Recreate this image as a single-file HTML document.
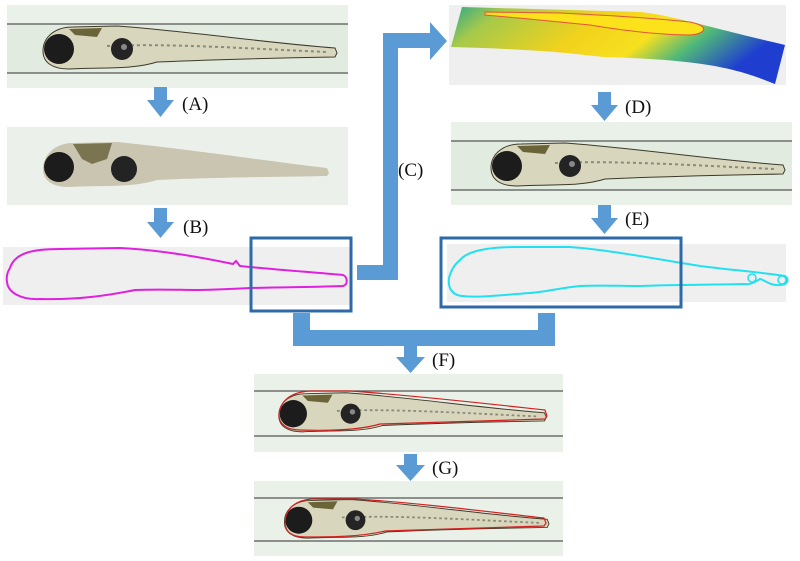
<!DOCTYPE html>
<html><head><meta charset="utf-8"><style>
html,body{margin:0;padding:0;background:#fff;width:800px;height:561px;overflow:hidden}
svg{display:block}
text{font-family:"Liberation Serif",serif;font-size:19px;fill:#111}
</style></head><body>
<svg width="800" height="561" viewBox="0 0 800 561" xmlns="http://www.w3.org/2000/svg">
<defs>
<linearGradient id="hm" x1="0" y1="0" x2="1" y2="0.3">
<stop offset="0" stop-color="#2ba88c"/>
<stop offset="0.15" stop-color="#a6c94a"/>
<stop offset="0.45" stop-color="#f2d21c"/>
<stop offset="0.65" stop-color="#f7e020"/>
<stop offset="0.8" stop-color="#4fb87a"/>
<stop offset="1" stop-color="#1f3ed0"/>
</linearGradient>
<clipPath id="pc"><rect x="0" y="0" width="341" height="83"/></clipPath>
<g id="fish">
<path d="M36,50 C36,36 48,26 66,26 L110,25 C180,30 260,42 328,47 L330,52 L328,56 C270,57 220,58 150,61 C125,69 95,66 62,68 C46,68 36,62 36,50 Z" fill="#d8d6bd" stroke="#3d3a2a" stroke-width="1"/>
<path d="M100,45 C160,42 250,48 320,51" stroke="#8a8a78" stroke-width="2" fill="none" stroke-dasharray="3 3"/>
<path d="M62,28 L95,27 L90,36 L68,34 Z" fill="#6a6438"/>
<circle cx="52" cy="48" r="15" fill="#1c1c1c"/>
<circle cx="115" cy="48" r="11" fill="#242424"/>
<circle cx="117" cy="46" r="3" fill="#888"/>
</g>
<g id="panel">
<rect x="0" y="0" width="341" height="83" fill="#eaf1e8"/>
<rect x="0" y="19" width="341" height="49" fill="#e2ebe0"/>
<line x1="0" y1="19" x2="341" y2="19" stroke="#555" stroke-width="1.3"/>
<line x1="0" y1="68" x2="341" y2="68" stroke="#555" stroke-width="1.3"/>
</g>
</defs>

<!-- Panel 1 -->
<g transform="translate(7,5)"><use href="#panel"/><use href="#fish" x="0" y="-4"/></g>
<path d="M154,87 H167 V100 H174 L160.5,117 L147,100 H154 Z" fill="#5b9bd5"/>
<text x="182" y="110">(A)</text>

<!-- Panel 2 -->
<rect x="7" y="127" width="341" height="78" fill="#ebf1ea"/>
<g transform="translate(7,119)">
<path d="M36,50 C36,36 48,24 66,24 L110,23 C180,30 260,42 320,49 L322,54 L320,57 C270,58 220,58 150,61 C125,69 95,66 62,68 C46,68 36,62 36,50 Z" fill="#c9c5b0"/>
<path d="M66,25 L105,24 L100,40 L85,45 L75,40 Z" fill="#7a7550"/>
<circle cx="52" cy="48" r="15" fill="#1c1c1c"/>
<circle cx="117" cy="50" r="13" fill="#232323"/>
</g>
<path d="M154,208 H167 V222 H174 L160.5,238 L147,222 H154 Z" fill="#5b9bd5"/>
<text x="183" y="233">(B)</text>

<!-- Panel 3 magenta -->
<rect x="3" y="247" width="348" height="58" fill="#efefef"/>
<path d="M10,268 C15,252 35,249 60,249 L120,248 C160,250 200,257 233,264 L236,261 L240,266 C280,270 310,272 343,275 C348,277 348,285 343,286 C320,287 290,287 250,288 C230,289 210,290 195,290 C180,290 160,289 135,290 C110,295 80,300 40,299 C20,300 8,292 7,282 C6,276 8,271 10,268 Z" fill="none" stroke="#e020e0" stroke-width="2"/>
<rect x="251" y="238" width="100" height="73" fill="none" stroke="#2e69a8" stroke-width="3"/>

<!-- Arrow C -->
<path d="M357,265 H383 V33 H430 V22 L447,41 L430,60 V48 H398 V280 H357 Z" fill="#5b9bd5"/>
<text x="398" y="176">(C)</text>

<!-- Heatmap panel -->
<rect x="449" y="5" width="337" height="80" fill="#efefef"/>
<path d="M462,7 L640,12 C670,15 700,25 785,45 L775,84 C740,70 710,60 605,57 C580,55 560,50 451,47 Z" fill="url(#hm)"/>
<path d="M485,12 L560,13 C600,15 640,17 690,22 C710,26 706,34 690,35 C660,35 620,30 590,25 C560,22 520,18 485,15 Z" fill="#fbe21a" stroke="#e0553a" stroke-width="1"/>

<path d="M598,92 H611 V105 H618 L604.5,121 L591,105 H598 Z" fill="#5b9bd5"/>
<text x="625" y="113">(D)</text>

<!-- Panel D -->
<g transform="translate(451,122)" clip-path="url(#pc)"><use href="#panel"/><use href="#fish" x="4" y="-4"/></g>

<path d="M598,205 H611 V218 H618 L604.5,234 L591,218 H598 Z" fill="#5b9bd5"/>
<text x="625" y="225">(E)</text>

<!-- Panel cyan -->
<rect x="447" y="244" width="339" height="58" fill="#efefef"/>
<path d="M460,260 C470,248 500,247 520,247 L570,247 C610,250 650,258 700,266 C730,270 750,271 785,276 C790,280 787,285 780,285 C770,286 765,280 760,279 C755,282 750,285 745,284 C700,285 660,285 640,286 C620,286 600,285 580,286 C560,288 545,292 530,293 C500,295 480,298 462,296 C450,295 448,285 449,278 C451,270 455,264 460,260 Z" fill="none" stroke="#22e0f0" stroke-width="2"/>
<circle cx="752" cy="278" r="4" fill="none" stroke="#22e0f0" stroke-width="1.5"/>
<circle cx="782" cy="280" r="4" fill="none" stroke="#22e0f0" stroke-width="1.5"/>
<rect x="441" y="238" width="240" height="69" fill="none" stroke="#2e69a8" stroke-width="3"/>

<!-- merge connector -->
<path d="M293,313 H310 V330 H538 V313 H555 V346 H293 Z" fill="#5b9bd5"/>
<path d="M404,346 H417 V357 H425 L410.5,373 L396,357 H404 Z" fill="#5b9bd5"/>
<text x="432" y="366">(F)</text>

<!-- Panel F -->
<rect x="254" y="374" width="309" height="78" fill="#eaf1e8"/>
<line x1="254" y1="391" x2="563" y2="391" stroke="#555" stroke-width="1.3"/>
<line x1="254" y1="436" x2="563" y2="436" stroke="#555" stroke-width="1.3"/>
<g transform="translate(246,370) scale(0.91)"><use href="#fish"/></g>
<path d="M279,415 C280,400 292,392 310,391 L350,391 C420,396 490,404 545,410 L547,416 L545,419 C500,420 450,422 380,424 C360,430 330,431 300,430 C288,430 279,425 279,415 Z" fill="none" stroke="#d42020" stroke-width="1.2"/>

<path d="M404,454 H417 V465 H425 L410.5,481 L396,465 H404 Z" fill="#5b9bd5"/>
<text x="432" y="474">(G)</text>

<!-- Panel G -->
<rect x="254" y="481" width="309" height="75" fill="#eaf1e8"/>
<line x1="254" y1="498" x2="563" y2="498" stroke="#555" stroke-width="1.3"/>
<line x1="254" y1="541" x2="563" y2="541" stroke="#555" stroke-width="1.3"/>
<g transform="translate(252,477) scale(0.9)"><use href="#fish"/></g>
<path d="M285,522 C286,508 296,500 312,499 L355,499 C420,503 490,512 544,518 L546,523 L544,526 C500,527 450,529 385,531 C360,537 330,537 305,537 C292,537 285,532 285,522 Z" fill="none" stroke="#d42020" stroke-width="1.2"/>
</svg>
</body></html>
